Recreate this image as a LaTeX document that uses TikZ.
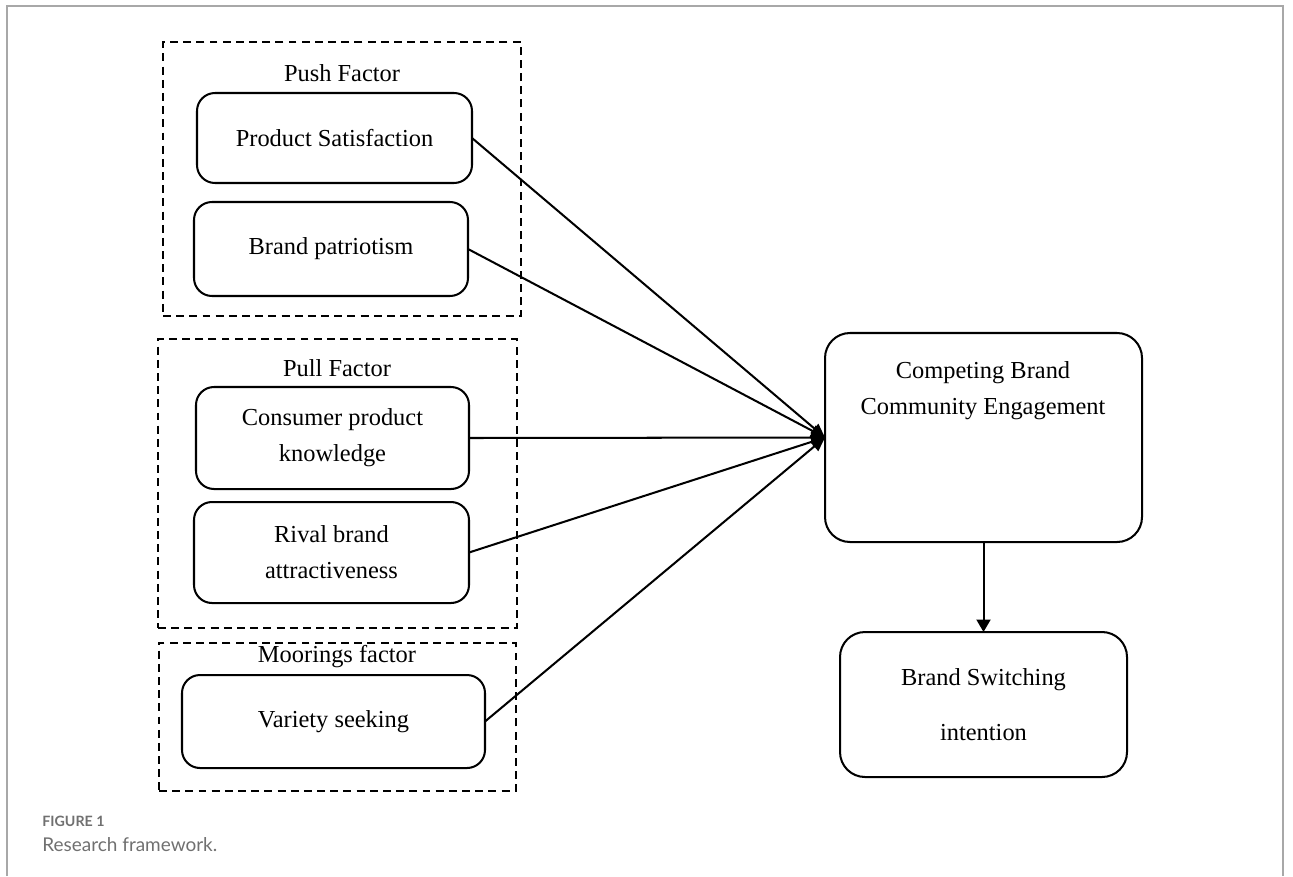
\documentclass[tikz,border=0pt]{standalone}
\usepackage{fontspec}
\setmainfont{Liberation Serif}
\newfontfamily\capfont{Lato}
\usetikzlibrary{arrows.meta}
\definecolor{capgray}{HTML}{707070}
\definecolor{framegray}{HTML}{A8A8A8}
\begin{document}
\begin{tikzpicture}[x=0.02cm,y=-0.02cm,
  font=\fontsize{13.9}{20.5}\selectfont,
  sized/.style 2 args={minimum width=#1*0.02cm,minimum height=#2*0.02cm},
  factor/.style={draw,line width=1.15pt,rounded corners=0.36cm,inner sep=0pt,outer sep=0pt,align=center},
  outcome/.style={draw,line width=1.15pt,rounded corners=0.5cm,inner sep=0pt,outer sep=0pt,align=center},
  group/.style={draw,line width=1.15pt,dash pattern=on 4.5pt off 3pt,inner sep=0pt,outer sep=0pt},
  heading/.style={inner sep=0pt,align=center},
  link/.style={line width=1.15pt,-{Triangle[length=0.28cm,width=0.24cm]}}]
\useasboundingbox (0,0) rectangle (1293,876);
\draw[framegray,line width=0.8pt] (7,876) -- (7,6) -- (1283,6) -- (1283,876);

\node [group,sized={358}{274}] (push) at (342,179) {};
\node [group,sized={359}{289}] (pull) at (337.5,483.5) {};
\node [group,sized={357}{148}] (moor) at (337.5,717) {};
\node [heading] (pushlbl) at (342,73) {Push Factor};
\node [heading] (pulllbl) at (337,368) {Pull Factor};
\node [heading] (moorlbl) at (337,657) {Moorings factor};

\node [factor,sized={275}{90}] (ps) at (334.5,138) {Product Satisfaction};
\node [factor,sized={274}{94}] (bp) at (331,249) {Brand patriotism};
\node [factor,sized={273}{102}] (cpk) at (332.5,438) {Consumer product\\knowledge};
\node [factor,sized={275}{101}] (rba) at (331.5,552.5) {Rival brand\\attractiveness};
\node [factor,sized={303}{93}] (vs) at (333.5,721.5) {Variety seeking};

\node [outcome,sized={317}{209}] (cbce) at (983.5,437.5) {};
\node [heading] (cbcelbl) at (983,391) {Competing Brand\\Community Engagement};
\node [outcome,sized={287}{145}] (bsi) at (983.5,704.5) {Brand Switching\\[10.8pt]intention};

\draw [link] (ps.east) -- (cbce.west);
\draw [link] (bp.east) -- (cbce.west);
\draw [link] (cpk.east) -- (cbce.west);
\draw [link] (rba.east) -- (cbce.west);
\draw [link] (vs.east) -- (cbce.west);
\draw [link,-{Triangle[length=0.25cm,width=0.28cm]}] (cbce.south) -- (bsi.north);

\node [anchor=west,inner sep=0pt,text=capgray,font=\capfont\bfseries\fontsize{8.1}{10}\selectfont] (fig) at (42,821) {FIGURE 1};
\node [anchor=west,inner sep=0pt,text=capgray,font=\capfont\fontsize{10.8}{12}\selectfont] (figcap) at (42,845) {Research framework.};
\end{tikzpicture}
\end{document}
